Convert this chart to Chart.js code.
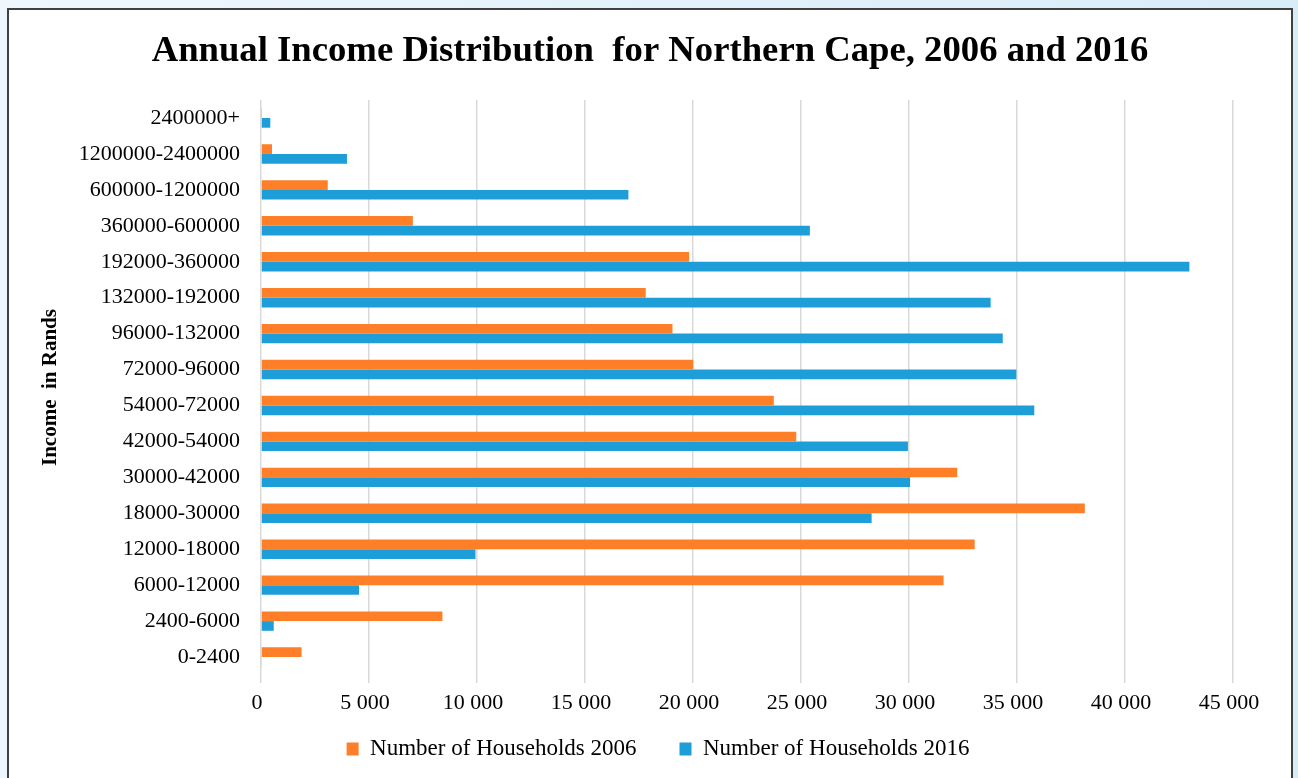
<!DOCTYPE html>
<html>
<head>
<meta charset="utf-8">
<script src="https://cdn.jsdelivr.net/npm/chart.js@4.4.1/dist/chart.umd.min.js"></script>
<style>
  html, body { margin: 0; padding: 0; }
  body {
    width: 1298px; height: 778px; overflow: hidden; position: relative;
    background: linear-gradient(to right, #eef7fd, #d8ecf8);
  }
  #frame {
    position: absolute; left: 7px; top: 8px; width: 1282px; height: 800px;
    background: #fff; border: 2px solid #404040;
  }
  #wrap { position: absolute; left: 0; top: 0; width: 1298px; height: 778px; }
</style>
</head>
<body>
<div id="frame"></div>
<div id="wrap"><canvas id="myChart" width="1298" height="778"></canvas></div>
<script>
  // income brackets, top to bottom as in the chart
  const incomeBands = [
    '2400000+', '1200000-2400000', '600000-1200000', '360000-600000',
    '192000-360000', '132000-192000', '96000-132000', '72000-96000',
    '54000-72000', '42000-54000', '30000-42000', '18000-30000',
    '12000-18000', '6000-12000', '2400-6000', '0-2400'
  ];
  const households2006 = [20, 510, 3090, 7030, 19820, 17810, 19050, 20010,
                          23740, 24780, 32230, 38140, 33040, 31600, 8400, 1880];
  const households2016 = [430, 3980, 17010, 25410, 42980, 33780, 34340, 34970,
                          35800, 29950, 30050, 28270, 9930, 4540, 590, 30];
  const xTicks = { min: 0, max: 45000, step: 5000 };

  const serif = '"Liberation Serif", "Times New Roman", serif';

  function spaced(n) {
    return String(n).replace(/\B(?=(\d{3})+(?!\d))/g, ' ');
  }

  // x labels sit under the legend's top padding, so widen their clip box;
  // title and legend are centred on the frame, not on the plot
  const nudge = {
    id: 'nudge',
    afterLayout(chart) {
      chart.scales.x.bottom = chart.height;
      chart.legend.left += 24;
      chart.legend.right += 24;
      chart.titleBlock.left += 16;
      chart.titleBlock.right += 16;
    }
  };

  const myChart = new Chart(document.getElementById('myChart'), {
    type: 'bar',
    data: {
      labels: incomeBands,
      datasets: [{
        label: 'Number of Households 2006',
        data: households2006,
        backgroundColor: '#fe7f27'
      }, {
        label: 'Number of Households 2016',
        data: households2016,
        backgroundColor: '#1e9ed8'
      }]
    },
    plugins: [nudge],
    options: {
      indexAxis: 'y',
      responsive: false,
      animation: false,
      datasets: { bar: { barPercentage: 1, categoryPercentage: 0.54, borderWidth: 0 } },
      layout: { padding: { top: 0, left: 35, right: 65, bottom: 7.5 } },
      scales: {
        x: {
          min: xTicks.min, max: xTicks.max,
          border: { display: false },
          grid: { color: '#d9d9d9', lineWidth: 1.5, tickLength: 8 },
          ticks: {
            stepSize: xTicks.step, color: '#000', padding: 7, labelOffset: -4,
            maxRotation: 0, autoSkip: false,
            font: { family: serif, size: 22 },
            callback: v => spaced(v)
          },
          afterFit: s => { s.height = 19.5; }
        },
        y: {
          border: { display: false },
          grid: { display: false, drawTicks: false },
          ticks: { color: '#000', padding: 21, autoSkip: false, font: { family: serif, size: 22 } },
          title: {
            display: true, text: 'Income  in Rands', color: '#000',
            padding: { top: 3, bottom: 4 },
            font: { family: serif, size: 21, weight: 'bold' }
          },
          afterFit: s => { s.width = 226; }
        }
      },
      plugins: {
        title: {
          display: true,
          text: 'Annual Income Distribution  for Northern Cape, 2006 and 2016',
          color: '#000',
          padding: { top: 30, bottom: 26 },
          font: { family: serif, size: 36.7, weight: 'bold' }
        },
        legend: {
          position: 'bottom',
          labels: {
            color: '#000', boxWidth: 12, boxHeight: 13, padding: 43,
            font: { family: serif, size: 23 }
          }
        },
        tooltip: { enabled: false }
      }
    }
  });
</script>
</body>
</html>
